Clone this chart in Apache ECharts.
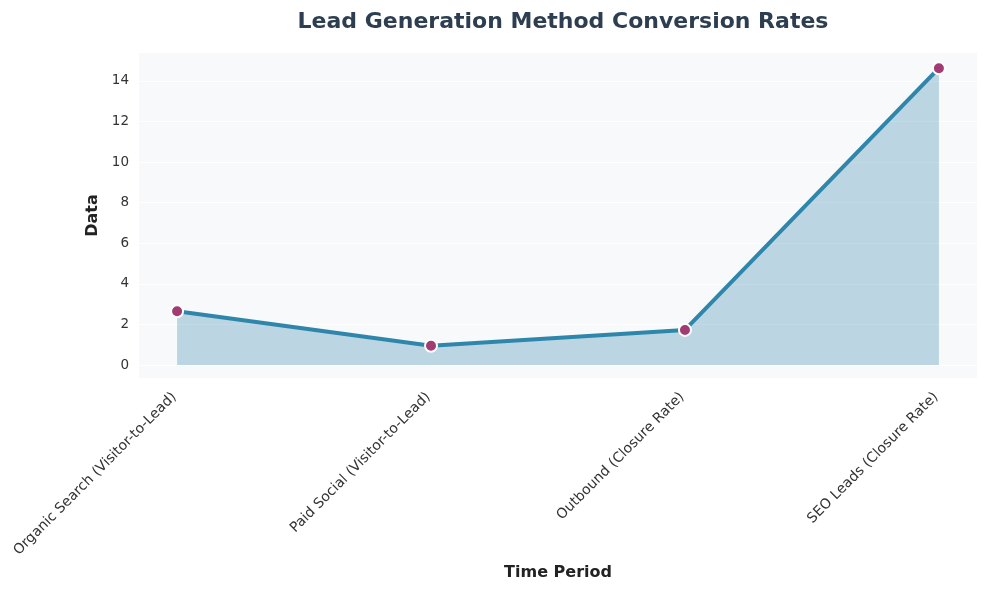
<!DOCTYPE html>
<html>
<head>
<meta charset="utf-8">
<script src="https://cdn.jsdelivr.net/npm/echarts@6/dist/echarts.min.js"></script>
<style>html,body{margin:0;padding:0;background:#fff}#c{width:987px;height:589px}</style>
</head>
<body>
<div id="c"></div>
<script>
const categories = ["Organic Search (Visitor-to-Lead)", "Paid Social (Visitor-to-Lead)", "Outbound (Closure Rate)", "SEO Leads (Closure Rate)"];
const values = [2.65, 0.95, 1.73, 14.63];
const yTicks = [0, 2, 4, 6, 8, 10, 12, 14];
const xTicks = [0, 1, 2, 3];

const chart = echarts.init(document.getElementById('c'), null, {renderer: 'canvas'});
const font = 'DejaVu Sans';
chart.setOption({
  animation: false,
  backgroundColor: '#ffffff',
  title: {
    text: 'Lead Generation Method Conversion Rates',
    left: 558, top: 6, textAlign: 'center',
    textStyle: {fontFamily: font, fontSize: 22, fontWeight: 'bold', color: '#2c3e50'}
  },
  grid: {left: 139, right: 10, top: 53, bottom: 211, show: true, backgroundColor: '#f8f9fa', borderWidth: 0},
  xAxis: {
    type: 'value', min: -0.15, max: 3.15,
    name: 'Time Period', nameLocation: 'middle', nameGap: 183,
    nameTextStyle: {fontFamily: font, fontSize: 16, fontWeight: 'bold', color: '#222'},
    axisLine: {show: false}, axisTick: {show: false},
    splitLine: {show: false},
    axisLabel: {customValues: xTicks, rotate: 45, margin: 14, fontFamily: font, fontSize: 14, color: '#333',
      padding: [0, 4, 0, 0],
      formatter: v => categories[Math.round(v)]}
  },
  yAxis: {
    type: 'value', min: -0.64, max: 15.38,
    name: 'Data', nameLocation: 'middle', nameGap: 30,
    nameTextStyle: {fontFamily: font, fontSize: 16, fontWeight: 'bold', color: '#222'},
    axisLine: {show: false},
    splitLine: {show: true, lineStyle: {color: '#ffffff', width: 1}},
    axisTick: {show: false, customValues: yTicks},
    axisLabel: {customValues: yTicks, margin: 10, fontFamily: font, fontSize: 13.5, color: '#333'}
  },
  series: [{
    type: 'line',
    data: values.map((v, i) => [i, v]),
    lineStyle: {color: '#2e86ab', width: 4},
    itemStyle: {color: '#a23b72', borderColor: '#ffffff', borderWidth: 2},
    symbol: 'circle', symbolSize: 12,
    areaStyle: {color: '#2e86ab', opacity: 0.3, origin: 0},
    z: 3
  }]
});
</script>
</body>
</html>
